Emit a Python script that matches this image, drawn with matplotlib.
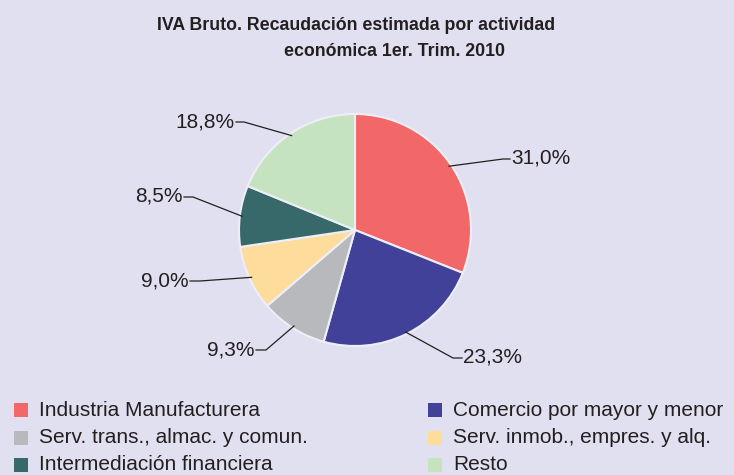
import matplotlib.pyplot as plt
import matplotlib.patches as mpatches
import numpy as np

categories = ['Industria Manufacturera', 'Comercio por mayor y menor',
              'Serv. trans., almac. y comun.', 'Serv. inmob., empres. y alq.',
              'Intermediación financiera', 'Resto']
shares = [31.0, 23.3, 9.3, 9.0, 8.5, 18.8]
labels = ['31,0%', '23,3%', '9,3%', '9,0%', '8,5%', '18,8%']
colors = ['#f26768', '#41419a', '#b8b9bd', '#fedc9c', '#37696a', '#c5e3c0']

bg = '#e1e0f0'
txt = '#231f20'
plt.rcParams['font.family'] = ['Liberation Sans', 'DejaVu Sans']

W, H = 734, 475
cx, cy, R = 355, 230, 116   # pie centre / radius in pixels

fig = plt.figure(figsize=(W / 100, H / 100), dpi=100, facecolor=bg)
ax = fig.add_axes([0, 0, 1, 1])
ax.set_facecolor(bg)


def px(x, y):
    # pixel position -> data coords
    return (x - cx) / R, (cy - y) / R


wedges, _ = ax.pie(shares, colors=colors, startangle=90, counterclock=False,
                   radius=1, center=(0, 0), frame=True,
                   wedgeprops=dict(edgecolor='#eeeef6', linewidth=1.5))
ax.set_xlim(-cx / R, (W - cx) / R)
ax.set_ylim((cy - H) / R, cy / R)
ax.set_aspect('equal')
ax.axis('off')

# label positions (text anchor, elbow) in pixels
label_pos = [((510, 158), (503, 159), 'left'),
             ((462, 357), (453, 358), 'left'),
             ((256, 350), (266, 350), 'right'),
             ((190, 281), (200, 281), 'right'),
             ((184, 196), (193, 197), 'right'),
             ((236, 122), (244, 122), 'right')]

for w, lab, (tp, ep, ha) in zip(wedges, labels, label_pos):
    ang = np.deg2rad((w.theta1 + w.theta2) / 2)
    x0, y0 = 0.98 * np.cos(ang), 0.98 * np.sin(ang)
    ex, ey = px(*ep)
    tx, ty = px(*tp)
    ax.plot([x0, ex, tx], [y0, ey, ey], color=txt, lw=0.9)
    ax.text(tx + (0.01 if ha == 'left' else -0.01), ty, lab, ha=ha, va='center',
            fontsize=15, color=txt)

# title
fig.text(157 / W, 1 - 25 / H, 'IVA Bruto. Recaudación estimada por actividad',
         ha='left', va='center', fontsize=12.8, fontweight='bold', color=txt)
fig.text(394 / W, 1 - 51 / H, 'económica 1er. Trim. 2010',
         ha='center', va='center', fontsize=12.8, fontweight='bold', color=txt)

# legend
for k in range(len(categories)):
    col, row = k % 2, k // 2
    sx = 14 if col == 0 else 428
    ty = 410 + row * 27.5
    ax.add_patch(mpatches.Rectangle(px(sx, ty + 7), 14 / R, 14 / R,
                                    facecolor=colors[k], edgecolor='none',
                                    clip_on=False))
    ax.text(*px(sx + 25, ty), categories[k], ha='left', va='center',
            fontsize=15, color=txt)

fig.savefig('out.png', dpi=100, facecolor=bg)
